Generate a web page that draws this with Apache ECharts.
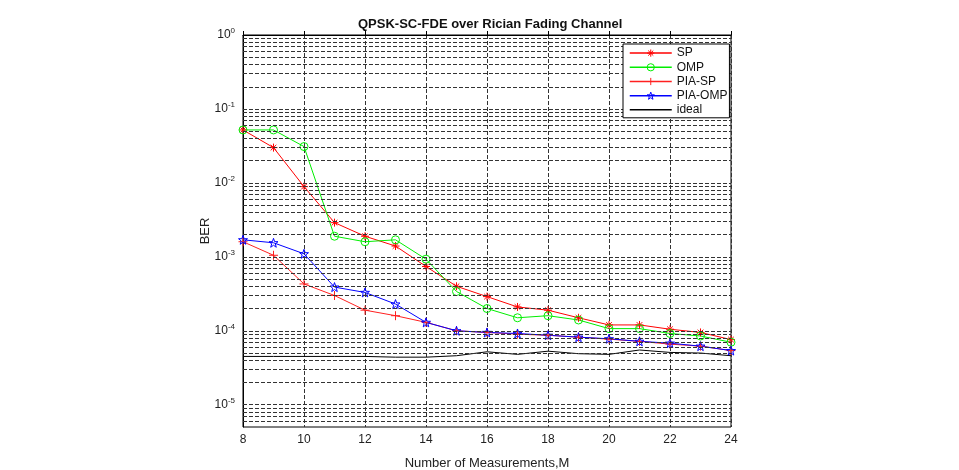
<!DOCTYPE html>
<html>
<head>
<meta charset="utf-8">
<script src="https://cdn.jsdelivr.net/npm/echarts@6/dist/echarts.min.js"></script>
<style>
html, body { margin: 0; padding: 0; background: #fff; }
#ber-chart { width: 959px; height: 470px; }
</style>
</head>
<body>
<div id="ber-chart"></div>
<script>
// measurements M
const mList = [8, 9, 10, 11, 12, 13, 14, 15, 16, 17, 18, 19, 20, 21, 22, 23, 24]

// BER values
const spList = [0.052, 0.030, 0.0089, 0.0029, 0.0019, 0.0014, 0.00074, 0.00040, 0.00029, 0.00021, 0.00019, 0.00015, 0.00012, 0.00012, 0.000105, 0.000095, 0.000076]
const ompList = [0.052, 0.052, 0.031, 0.0019, 0.0016, 0.0017, 0.00093, 0.00034, 0.00020, 0.00015, 0.00016, 0.00014, 0.000107, 0.000107, 0.000092, 0.000085, 0.000070]
const piaSpList = [0.0016, 0.00105, 0.00043, 0.00030, 0.00019, 0.00016, 0.00013, 0.00010, 0.000095, 0.000090, 0.000087, 0.000082, 0.000077, 0.000072, 0.000066, 0.000062, 0.000054]
const piaOmpList = [0.0017, 0.00155, 0.0011, 0.00039, 0.00033, 0.00023, 0.00013, 0.00010, 0.000095, 0.000092, 0.000087, 0.000082, 0.000078, 0.000072, 0.000068, 0.000062, 0.000054]
const idealList = [0.000045, 0.000045, 0.000045, 0.000045, 0.000045, 0.000044, 0.000044, 0.000046, 0.000052, 0.000048, 0.000053, 0.000049, 0.000048, 0.000055, 0.000051, 0.000050, 0.000046]

// y ticks (powers of ten)
const decadeList = [-5, -4, -3, -2, -1, 0]
const yMinBer = 5e-6

const toPoints = (vals) => vals.map((v, i) => [mList[i], Math.log10(v)])

// marker shapes
const starPath = (() => {
	let p = ''
	for (let i = 0; i < 10; i++) {
		const r = i % 2 ? 0.4 : 1
		const a = -Math.PI / 2 + i * Math.PI / 5
		p += (i ? 'L' : 'M') + (10 + 10 * r * Math.cos(a)).toFixed(2) + ',' + (10 + 10 * r * Math.sin(a)).toFixed(2)
	}
	return 'path://' + p + 'Z'
})()
const plusPath = 'path://M5,0L5,10M0,5L10,5'
const asteriskPath = 'path://M5,0L5,10M0,5L10,5M1.5,1.5L8.5,8.5M1.5,8.5L8.5,1.5'

// minor grid lines of the log axis
const gridLines = []
for (let d = -6; d < 0; d++) {
	for (let k = 1; k <= 9; k++) {
		const v = Math.log10(k) + d
		if (v > Math.log10(yMinBer) + 0.001 && v < -0.001) gridLines.push({ yAxis: v })
	}
}

const seriesDefs = [
	{ name: 'SP', vals: spList, color: '#ff0000', symbol: asteriskPath, size: 8 },
	{ name: 'OMP', vals: ompList, color: '#00ee00', symbol: 'circle', size: 8 },
	{ name: 'PIA-SP', vals: piaSpList, color: '#ff2020', symbol: plusPath, size: 9 },
	{ name: 'PIA-OMP', vals: piaOmpList, color: '#0000ff', symbol: starPath, size: 9 },
	{ name: 'ideal', vals: idealList, color: '#000000', symbol: 'none', size: 0 }
]

const makeSeries = (d) => ({
	name: d.name,
	type: 'line',
	data: toPoints(d.vals),
	symbol: d.symbol,
	symbolSize: d.size,
	showSymbol: d.symbol !== 'none',
	lineStyle: { color: d.color, width: 1 },
	itemStyle: { color: 'none', borderColor: d.color, borderWidth: 1 },
	emphasis: { disabled: true },
	animation: false,
	z: 3
})

const legendItems = seriesDefs.map((d) => ({
	name: d.name,
	itemStyle: { color: 'none', borderColor: d.color, borderWidth: d.symbol === 'none' ? 0 : 1 }
}))

const chart = echarts.init(document.getElementById('ber-chart'))
chart.setOption({
	animation: false,
	title: {
		text: 'QPSK-SC-FDE over Rician Fading Channel',
		left: 353,
		top: 13,
		textStyle: { fontFamily: 'Liberation Sans, Arial', fontSize: 13, fontWeight: 'bold', color: '#111' }
	},
	legend: {
		data: legendItems,
		orient: 'vertical',
		left: 623,
		top: 44,
		z: 20,
		zlevel: 1,
		backgroundColor: '#fff',
		borderColor: '#000',
		borderWidth: 1,
		borderRadius: 0,
		padding: [3, 2, 2, 6],
		itemWidth: 42,
		itemHeight: 9,
		itemGap: 2,
		lineStyle: { width: 1.5 },
		textStyle: { fontFamily: 'Liberation Sans, Arial', fontSize: 12, color: '#111' }
	},
	grid: {
		left: 243,
		right: 228,
		top: 35,
		bottom: 43,
		outerBoundsMode: 'none',
		show: true,
		borderColor: '#000',
		borderWidth: 1
	},
	xAxis: {
		type: 'value',
		min: 8,
		max: 24,
		interval: 2,
		name: 'Number of Measurements,M',
		nameLocation: 'middle',
		nameGap: 30,
		nameTextStyle: { fontFamily: 'Liberation Sans, Arial', fontSize: 13, color: '#222' },
		axisLine: { lineStyle: { color: '#000' } },
		axisTick: { inside: true, length: 4, lineStyle: { color: '#000' } },
		axisLabel: { fontFamily: 'Liberation Sans, Arial', fontSize: 12, color: '#222', margin: 7 },
		splitLine: { show: true, lineStyle: { color: '#333', type: [4, 2], width: 1 } }
	},
	yAxis: {
		type: 'value',
		min: Math.log10(yMinBer),
		max: 0,
		name: 'BER',
		nameLocation: 'middle',
		nameGap: 31,
		nameMoveOverlap: false,
		nameTextStyle: { fontFamily: 'Liberation Sans, Arial', fontSize: 13, color: '#222' },
		axisLine: { lineStyle: { color: '#000' } },
		axisTick: { inside: true, length: 4, customValues: decadeList, lineStyle: { color: '#000' } },
		axisLabel: {
			customValues: decadeList,
			margin: 8,
			formatter: (v) => '{b|10}{s|' + Math.round(v) + '}',
			rich: {
				b: { fontFamily: 'Liberation Sans, Arial', fontSize: 12, color: '#222' },
				s: { fontFamily: 'Liberation Sans, Arial', fontSize: 8, color: '#222', verticalAlign: 'top', padding: [0, 0, 8, 0] }
			}
		},
		splitLine: { show: false }
	},
	series: [
		{
			name: 'grid',
			type: 'line',
			data: [],
			z: 1,
			silent: true,
			markLine: {
				silent: true,
				symbol: 'none',
				animation: false,
				label: { show: false },
				lineStyle: { color: '#333', type: [4, 2], width: 1 },
				data: gridLines
			}
		}
	].concat(seriesDefs.map(makeSeries))
})
</script>
</body>
</html>
